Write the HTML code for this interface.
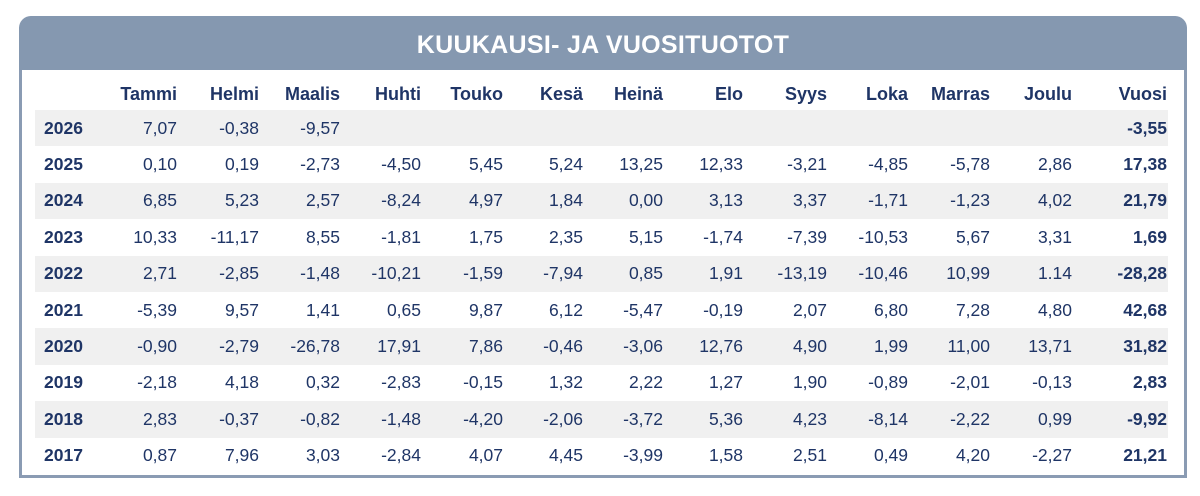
<!DOCTYPE html>
<html><head><meta charset="utf-8"><style>
body{margin:0;width:1200px;height:496px;background:#fff;position:relative;overflow:hidden;font-family:"Liberation Sans",sans-serif;color:#1f3566}
.box{position:absolute;left:19px;top:16px;width:1168px;height:462px;border:3px solid #8a9bb3;border-top:none;border-radius:14px 14px 0 0;box-sizing:border-box}
.hdr{position:absolute;left:19px;top:16px;width:1168px;height:54px;background:#8598b0;border-radius:12px 12px 0 0;color:#fff;font-weight:bold;font-size:25px;text-align:center;line-height:58px;letter-spacing:0.3px}
table{position:absolute;left:35px;top:78px;border-collapse:collapse;table-layout:fixed;font-size:17.5px}
td,th{padding:0 1px 0 0;text-align:right;height:36.4px;white-space:nowrap}
th{height:32px;font-weight:bold;font-size:18px}
td:first-child{text-align:left;padding-left:9px;font-weight:bold}
td:last-child{font-weight:bold}
tr.s td{background:#f0f0f0}
</style></head><body>
<div class="box"></div>
<div class="hdr">KUUKAUSI- JA VUOSITUOTOT</div>
<table>
<colgroup><col style="width:61px"><col style="width:82px"><col style="width:82px"><col style="width:81px"><col style="width:81px"><col style="width:82px"><col style="width:80px"><col style="width:80px"><col style="width:80px"><col style="width:84px"><col style="width:81px"><col style="width:82px"><col style="width:82px"><col style="width:95px"></colgroup>
<tr><th></th><th>Tammi</th><th>Helmi</th><th>Maalis</th><th>Huhti</th><th>Touko</th><th>Kesä</th><th>Heinä</th><th>Elo</th><th>Syys</th><th>Loka</th><th>Marras</th><th>Joulu</th><th>Vuosi</th></tr>
<tr class="s"><td>2026</td><td>7,07</td><td>-0,38</td><td>-9,57</td><td></td><td></td><td></td><td></td><td></td><td></td><td></td><td></td><td></td><td>-3,55</td></tr>
<tr><td>2025</td><td>0,10</td><td>0,19</td><td>-2,73</td><td>-4,50</td><td>5,45</td><td>5,24</td><td>13,25</td><td>12,33</td><td>-3,21</td><td>-4,85</td><td>-5,78</td><td>2,86</td><td>17,38</td></tr>
<tr class="s"><td>2024</td><td>6,85</td><td>5,23</td><td>2,57</td><td>-8,24</td><td>4,97</td><td>1,84</td><td>0,00</td><td>3,13</td><td>3,37</td><td>-1,71</td><td>-1,23</td><td>4,02</td><td>21,79</td></tr>
<tr><td>2023</td><td>10,33</td><td>-11,17</td><td>8,55</td><td>-1,81</td><td>1,75</td><td>2,35</td><td>5,15</td><td>-1,74</td><td>-7,39</td><td>-10,53</td><td>5,67</td><td>3,31</td><td>1,69</td></tr>
<tr class="s"><td>2022</td><td>2,71</td><td>-2,85</td><td>-1,48</td><td>-10,21</td><td>-1,59</td><td>-7,94</td><td>0,85</td><td>1,91</td><td>-13,19</td><td>-10,46</td><td>10,99</td><td>1.14</td><td>-28,28</td></tr>
<tr><td>2021</td><td>-5,39</td><td>9,57</td><td>1,41</td><td>0,65</td><td>9,87</td><td>6,12</td><td>-5,47</td><td>-0,19</td><td>2,07</td><td>6,80</td><td>7,28</td><td>4,80</td><td>42,68</td></tr>
<tr class="s"><td>2020</td><td>-0,90</td><td>-2,79</td><td>-26,78</td><td>17,91</td><td>7,86</td><td>-0,46</td><td>-3,06</td><td>12,76</td><td>4,90</td><td>1,99</td><td>11,00</td><td>13,71</td><td>31,82</td></tr>
<tr><td>2019</td><td>-2,18</td><td>4,18</td><td>0,32</td><td>-2,83</td><td>-0,15</td><td>1,32</td><td>2,22</td><td>1,27</td><td>1,90</td><td>-0,89</td><td>-2,01</td><td>-0,13</td><td>2,83</td></tr>
<tr class="s"><td>2018</td><td>2,83</td><td>-0,37</td><td>-0,82</td><td>-1,48</td><td>-4,20</td><td>-2,06</td><td>-3,72</td><td>5,36</td><td>4,23</td><td>-8,14</td><td>-2,22</td><td>0,99</td><td>-9,92</td></tr>
<tr><td>2017</td><td>0,87</td><td>7,96</td><td>3,03</td><td>-2,84</td><td>4,07</td><td>4,45</td><td>-3,99</td><td>1,58</td><td>2,51</td><td>0,49</td><td>4,20</td><td>-2,27</td><td>21,21</td></tr>
</table>
</body></html>
